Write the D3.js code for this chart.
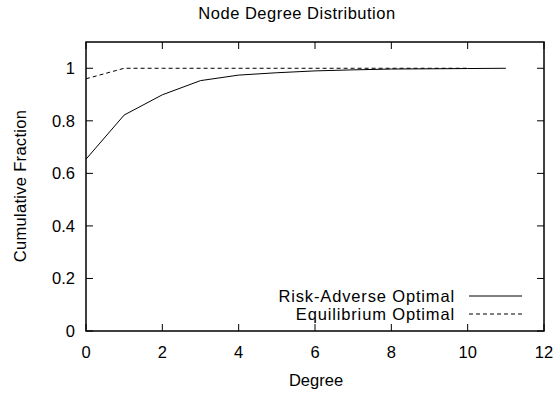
<!DOCTYPE html>
<html>
<head>
<meta charset="utf-8">
<script src="https://cdn.jsdelivr.net/npm/d3@7"></script>
<style>
  html, body { margin: 0; padding: 0; background: #fff; }
  svg text { font-family: "Liberation Sans", Arial, Helvetica, sans-serif; fill: #000; }
</style>
</head>
<body>
<svg id="chart" width="555" height="394"></svg>
<script>
// Cumulative node degree distribution for two network designs
const degreesRisk = [0, 1, 2, 3, 4, 5, 6, 7, 8, 9, 10, 11];
const riskAdverse = [0.654, 0.822, 0.899, 0.953, 0.974, 0.983, 0.990, 0.994, 0.997, 0.998, 0.999, 1.0];
const degreesEq = [0, 1, 2, 3, 4, 5, 6, 7, 8, 9, 10];
const equilibrium = [0.96, 1.0, 1.0, 1.0, 1.0, 1.0, 1.0, 1.0, 1.0, 1.0, 1.0];
const xTicks = [0, 2, 4, 6, 8, 10, 12];
const yTicks = [0, 0.2, 0.4, 0.6, 0.8, 1];
const seriesNames = ["Risk-Adverse Optimal", "Equilibrium Optimal"];

const svg = d3.select("#chart");
const plotLeft = 86, plotRight = 544, plotTop = 42, plotBottom = 331;

const x = d3.scaleLinear().domain([0, 12]).range([plotLeft, plotRight]);
const y = d3.scaleLinear().domain([0, 1.1]).range([plotBottom, plotTop]);

const fs = 16.5;
const tickLen = 7;

// tick marks on all four sides, pointing inward
const g = svg.append("g").attr("stroke", "#000").attr("stroke-width", 1);
xTicks.forEach(t => {
  g.append("line").attr("x1", x(t)).attr("x2", x(t)).attr("y1", plotBottom).attr("y2", plotBottom - tickLen);
  g.append("line").attr("x1", x(t)).attr("x2", x(t)).attr("y1", plotTop).attr("y2", plotTop + tickLen);
});
yTicks.forEach(t => {
  g.append("line").attr("x1", plotLeft).attr("x2", plotLeft + tickLen).attr("y1", y(t)).attr("y2", y(t));
  g.append("line").attr("x1", plotRight).attr("x2", plotRight - tickLen).attr("y1", y(t)).attr("y2", y(t));
});

// tick labels
svg.append("g").selectAll("text").data(xTicks).join("text")
  .attr("x", d => x(d)).attr("y", 358)
  .attr("text-anchor", "middle").attr("font-size", fs)
  .text(d => d);
svg.append("g").selectAll("text").data(yTicks).join("text")
  .attr("x", 75).attr("y", d => y(d) + 6)
  .attr("text-anchor", "end").attr("font-size", fs)
  .text(d => d3.format("~g")(d));

// axis titles
svg.append("text").attr("x", 316).attr("y", 386)
  .attr("text-anchor", "middle").attr("font-size", fs).text("Degree");
svg.append("text").attr("transform", "translate(26,186) rotate(-90)")
  .attr("text-anchor", "middle").attr("font-size", fs).attr("letter-spacing", 0.3)
  .text("Cumulative Fraction");
svg.append("text").attr("x", 297).attr("y", 19)
  .attr("text-anchor", "middle").attr("font-size", fs).attr("letter-spacing", 0.5)
  .text("Node Degree Distribution");

// data lines
const lineGen = d3.line().x(d => x(d[0])).y(d => y(d[1]));
svg.append("path")
  .datum(degreesRisk.map((d, i) => [d, riskAdverse[i]]))
  .attr("d", lineGen).attr("fill", "none").attr("stroke", "#000").attr("stroke-width", 1);
svg.append("path")
  .datum(degreesEq.map((d, i) => [d, equilibrium[i]]))
  .attr("d", lineGen).attr("fill", "none").attr("stroke", "#000").attr("stroke-width", 1)
  .attr("stroke-dasharray", "4,3");

// legend
const legend = svg.append("g");
const dashes = [null, "4,3"];
seriesNames.forEach((name, i) => {
  const ly = 296 + i * 18;
  legend.append("text").attr("x", 455).attr("y", ly + 6)
    .attr("text-anchor", "end").attr("font-size", fs).attr("letter-spacing", 0.85).text(name);
  legend.append("line").attr("x1", 469).attr("x2", 522).attr("y1", ly).attr("y2", ly)
    .attr("stroke", "#000").attr("stroke-width", 1)
    .attr("stroke-dasharray", dashes[i]);
});

// plot frame
svg.append("rect").attr("x", plotLeft).attr("y", plotTop)
  .attr("width", plotRight - plotLeft).attr("height", plotBottom - plotTop)
  .attr("fill", "none").attr("stroke", "#000").attr("stroke-width", 1.5);
</script>
</body>
</html>
